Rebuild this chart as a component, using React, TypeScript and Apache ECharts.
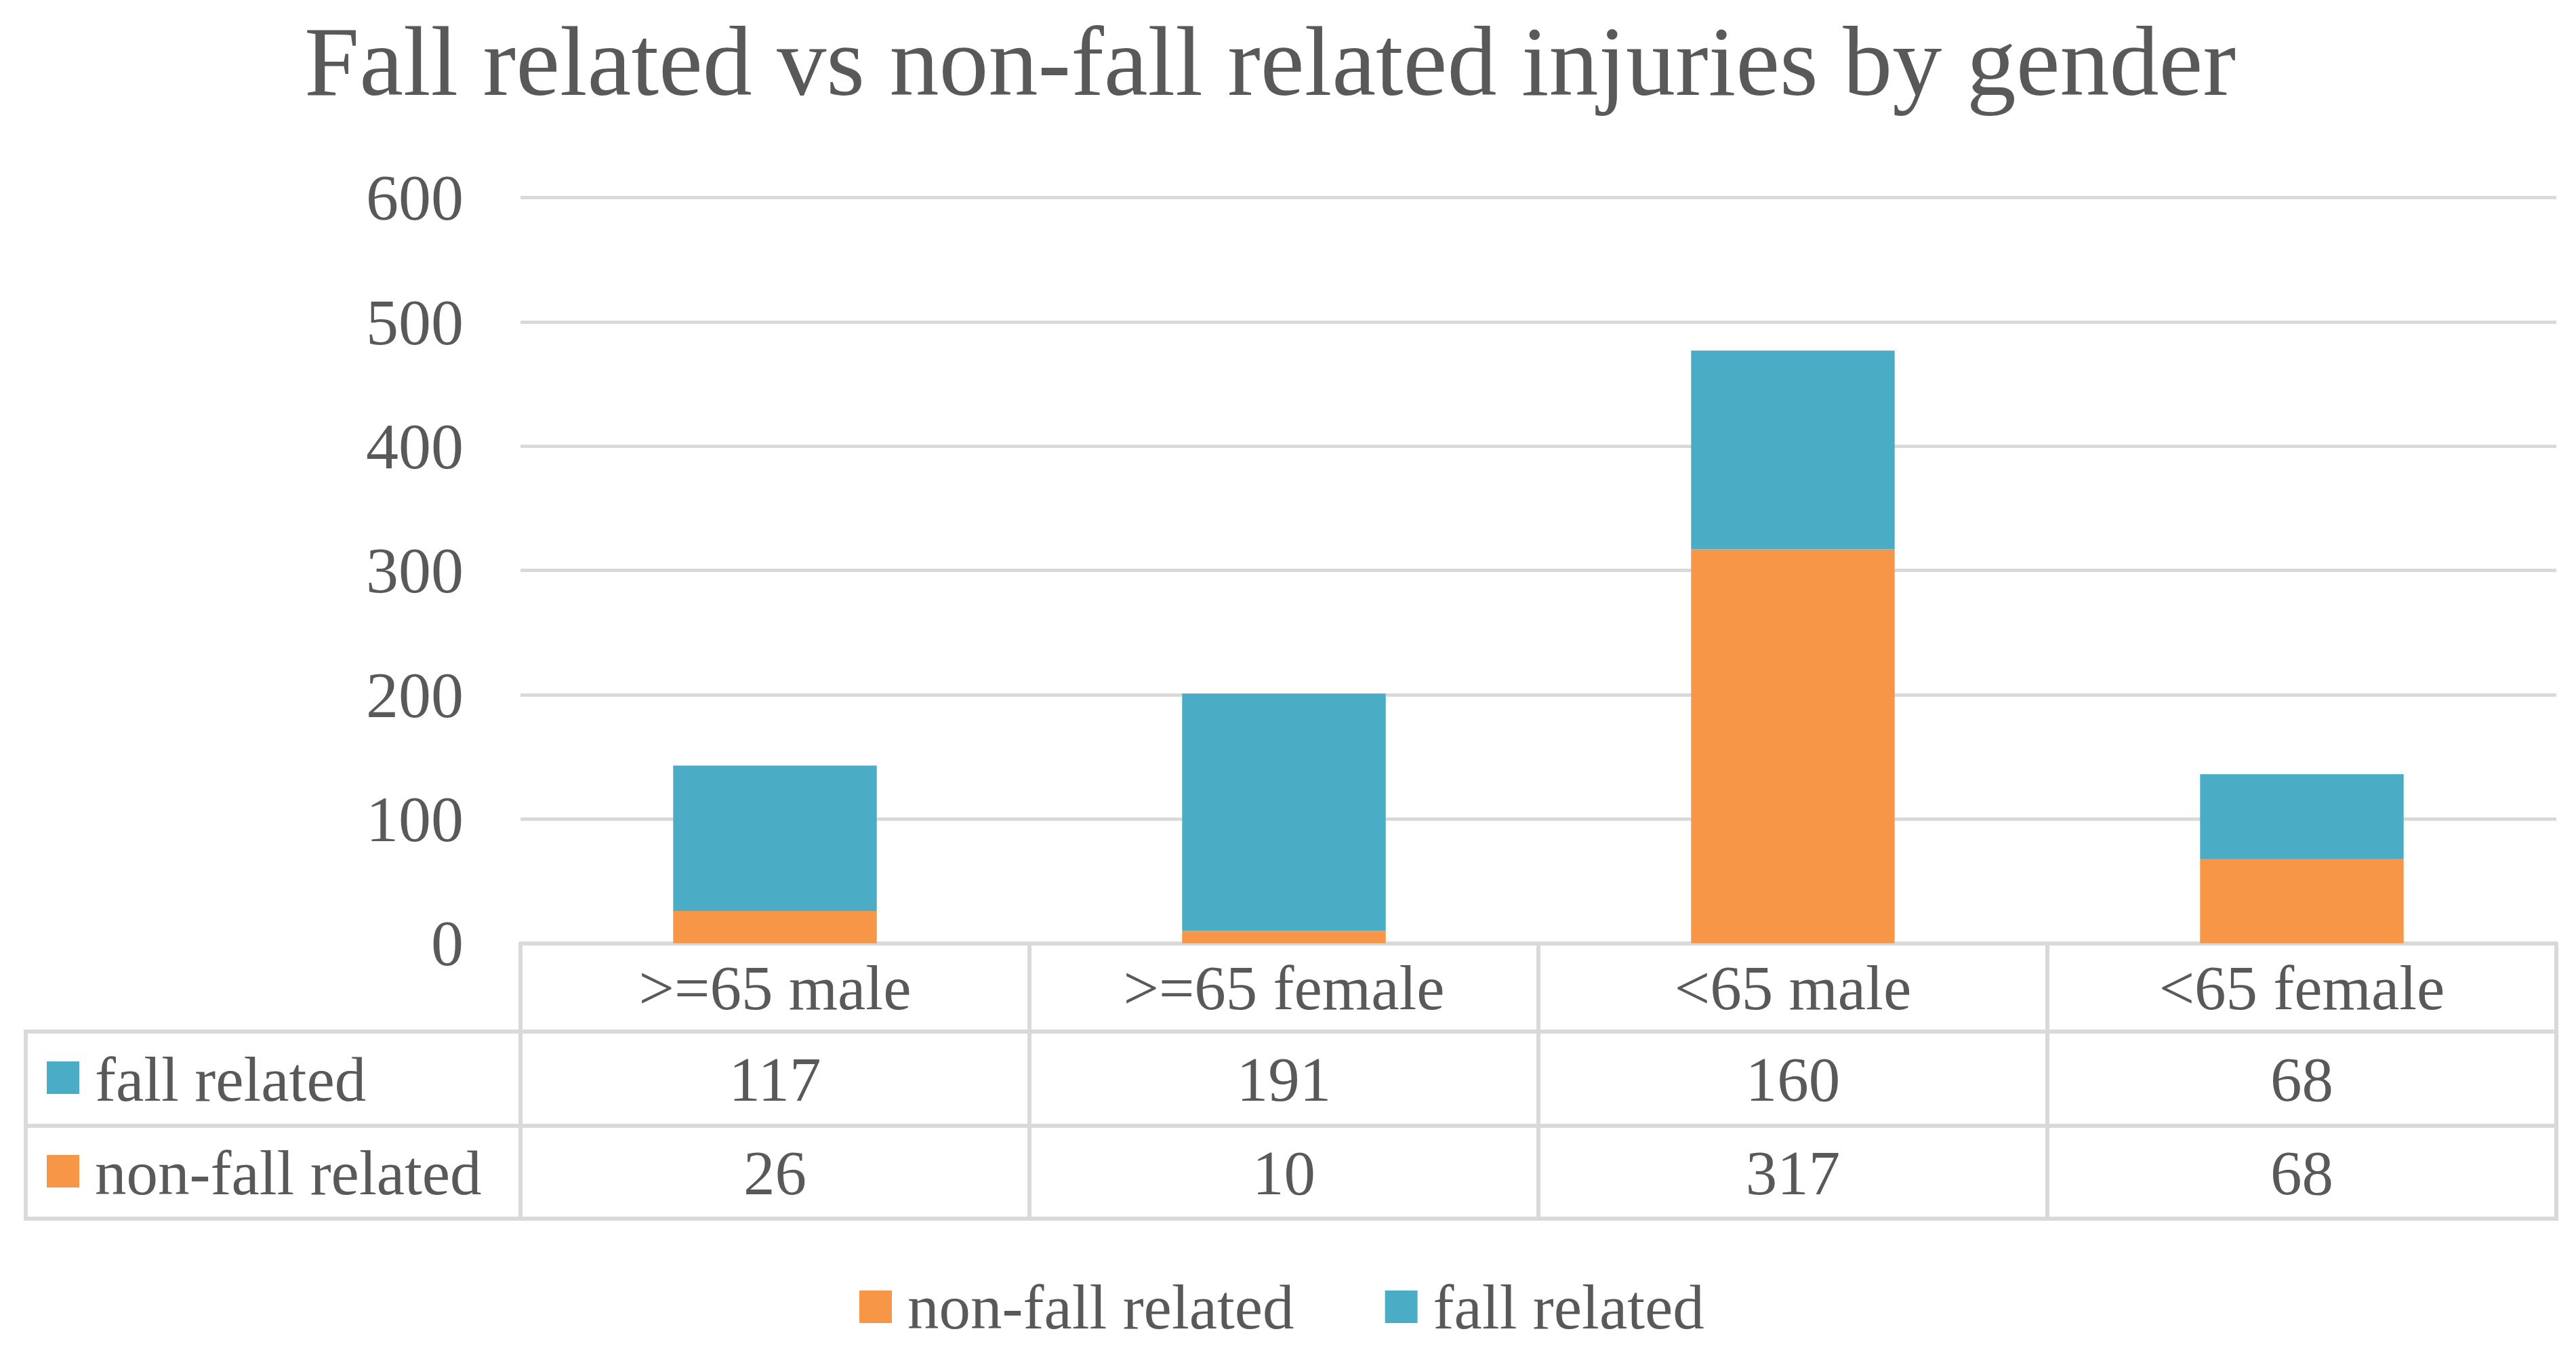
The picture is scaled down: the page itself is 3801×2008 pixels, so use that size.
import React, { useEffect, useRef } from "react";
import * as echarts from "echarts";

const categories = [">=65 male", ">=65 female", "<65 male", "<65 female"];
const fallRelated = [117, 191, 160, 68];
const nonFallRelated = [26, 10, 317, 68];
const seriesNames = ["fall related", "non-fall related"];
const legendOrder = ["non-fall related", "fall related"];
const yMin = 0;
const yMax = 600;
const yStep = 100;

const BLUE = "#4BACC6";
const ORANGE = "#F79646";
const TEXT = "#595959";
const LINE = "#D9D9D9";
const FONT = "'Liberation Serif', 'DejaVu Serif', serif";

export default function App() {
  const ref = useRef<HTMLDivElement>(null);
  useEffect(() => {
    if (!ref.current) return;
    const chart = echarts.init(ref.current, undefined, { renderer: "svg" });
    const labelBase = { fontSize: 93, color: TEXT, fontFamily: FONT };
    const gridLeft = 768;
    const gridRight = 3772;
    const gridTop = 291.7;
    const gridBottom = 1391.7;
    const row1 = 1522;
    const row2 = 1661;
    const row3 = 1798;
    const tableLeft = 38;
    const option: any = {
      animation: false,
      backgroundColor: "#ffffff",
      textStyle: { fontFamily: FONT },
      grid: {
        left: gridLeft,
        top: gridTop,
        width: gridRight - gridLeft,
        height: gridBottom - gridTop,
        containLabel: false,
      },
      legend: {
        data: legendOrder,
        left: 1263,
        top: 1873,
        itemWidth: 48,
        itemHeight: 48,
        itemGap: 134,
        icon: "rect",
        textStyle: { ...labelBase, lineHeight: 100, padding: [0, 0, 0, 18] },
      },
      xAxis: [
        {
          type: "category",
          data: categories,
          position: "bottom",
          axisLine: { show: true, lineStyle: { color: LINE, width: 6 } },
          axisTick: { show: true, length: row3 - gridBottom, lineStyle: { color: LINE, width: 6 } },
          axisLabel: { ...labelBase, interval: 0, margin: 1457 - gridBottom, verticalAlign: "middle" },
          splitLine: { show: false },
        },
        {
          type: "category",
          data: fallRelated.map(String),
          position: "bottom",
          axisLine: { show: false },
          axisTick: { show: false },
          axisLabel: { ...labelBase, interval: 0, margin: 1592 - gridBottom, verticalAlign: "middle" },
        },
        {
          type: "category",
          data: nonFallRelated.map(String),
          position: "bottom",
          axisLine: { show: false },
          axisTick: { show: false },
          axisLabel: { ...labelBase, interval: 0, margin: 1730 - gridBottom, verticalAlign: "middle" },
        },
      ],
      yAxis: {
        type: "value",
        min: yMin,
        max: yMax,
        interval: yStep,
        axisLine: { show: false },
        axisTick: { show: false },
        splitLine: { show: true, lineStyle: { color: LINE, width: 5 } },
        axisLabel: { ...labelBase, fontSize: 96, margin: 84 },
      },
      series: [
        {
          name: seriesNames[1],
          type: "bar",
          stack: "total",
          xAxisIndex: 0,
          barWidth: "40%",
          data: nonFallRelated,
          itemStyle: { color: ORANGE },
        },
        {
          name: seriesNames[0],
          type: "bar",
          stack: "total",
          xAxisIndex: 0,
          barWidth: "40%",
          data: fallRelated,
          itemStyle: { color: BLUE },
        },
      ],
      graphic: [
        {
          type: "text",
          x: 1874,
          y: 91,
          style: {
            text: "Fall related vs non-fall related injuries by gender",
            fontSize: 146,
            fontFamily: FONT,
            fill: TEXT,
            align: "center",
            verticalAlign: "middle",
          },
        },
        { type: "line", shape: { x1: tableLeft - 3, y1: row1, x2: gridRight + 3, y2: row1 }, style: { stroke: LINE, lineWidth: 6 } },
        { type: "line", shape: { x1: tableLeft - 3, y1: row2, x2: gridRight + 3, y2: row2 }, style: { stroke: LINE, lineWidth: 6 } },
        { type: "line", shape: { x1: tableLeft - 3, y1: row3, x2: gridRight + 3, y2: row3 }, style: { stroke: LINE, lineWidth: 6 } },
        { type: "line", shape: { x1: tableLeft, y1: row1, x2: tableLeft, y2: row3 }, style: { stroke: LINE, lineWidth: 6 } },
        { type: "rect", shape: { x: 69, y: 1566, width: 48, height: 48 }, style: { fill: BLUE } },
        { type: "rect", shape: { x: 69, y: 1704, width: 48, height: 48 }, style: { fill: ORANGE } },
        {
          type: "text",
          x: 140,
          y: 1592,
          style: { text: seriesNames[0], fontSize: 93, fontFamily: FONT, fill: TEXT, verticalAlign: "middle" },
        },
        {
          type: "text",
          x: 140,
          y: 1730,
          style: { text: seriesNames[1], fontSize: 93, fontFamily: FONT, fill: TEXT, verticalAlign: "middle" },
        },
      ],
    };
    chart.setOption(option);
    return () => chart.dispose();
  }, []);
  return (
    <div
      ref={ref}
      style={{ position: "fixed", left: 0, top: 0, width: 3801, height: 2008, background: "#fff" }}
    />
  );
}
